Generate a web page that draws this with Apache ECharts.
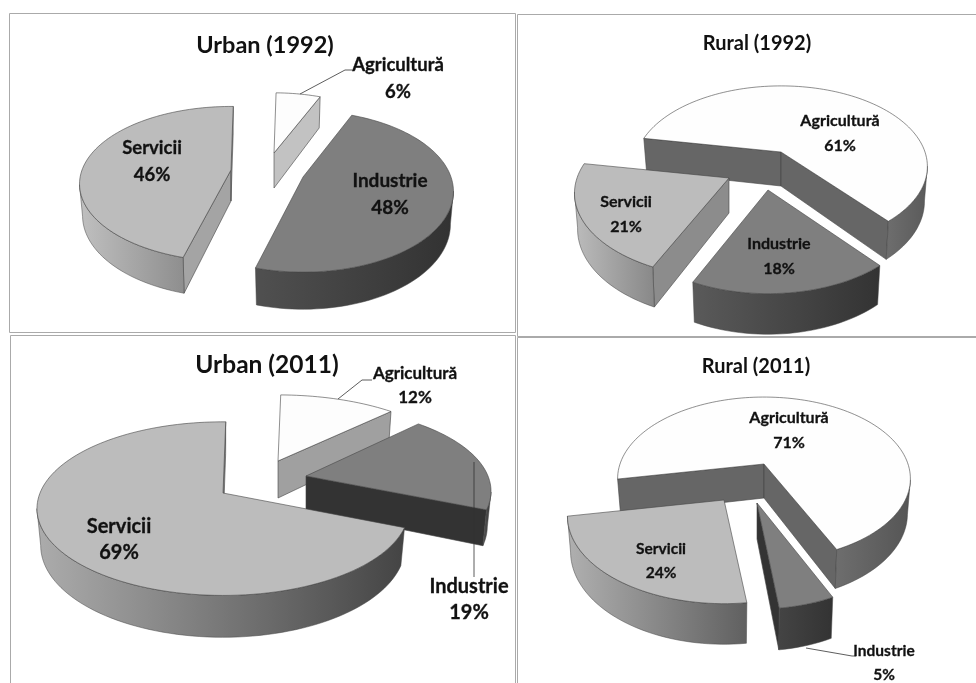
<!DOCTYPE html>
<html>
<head>
<meta charset="utf-8">
<style>
html,body{margin:0;padding:0;background:#fff;}
#main{width:976px;height:683px;}
</style>
<script src="https://cdn.jsdelivr.net/npm/echarts@6/dist/echarts.min.js"></script>
</head>
<body>
<div id="main"></div>
<script>
// values (percent)
var categories = ['Agricultură', 'Industrie', 'Servicii'];
var urban1992 = [6, 48, 46];
var rural1992 = [61, 18, 21];
var urban2011 = [12, 19, 69];
var rural2011 = [71, 5, 24];
var titles = ['Urban (1992)', 'Rural (1992)', 'Urban (2011)', 'Rural (2011)'];

var FONT = 'Lato, "Open Sans", sans-serif';
var PERSP = 0.18; // back of the disc is drawn smaller than the front

// placement of every exploded slice: x,y = apex, rx,ry,h = disc size
var panels = [
	{
		values: urban1992, start: 1,
		title: {x: 260, y: 28, size: 23.5},
		slices: [
			{x: 274, y: 153, rx: 140, ry: 71, h: 35, wall: '#c2c2c2', rim: ['#c2c2c2', '#a8a8a8'], top: '#fdfdfd',
				label: {x: 398, y: 65, y2: 92, size: 18.5}, leader: [[300, 94], [345, 70], [352, 70]]},
			{x: 303, y: 177, rx: 148, ry: 78, h: 32, wall: '#4a4a4a', rim: ['#505050', '#323232'], top: '#7f7f7f',
				label: {x: 390, y: 181, y2: 208, size: 19}},
			{x: 231, y: 170, rx: 149, ry: 75, h: 31, wall: '#a4a4a4', rim: ['#c0c0c0', '#8e8e8e'], top: '#bcbcbc',
				label: {x: 152, y: 148, y2: 175, size: 18.5}}
		]
	},
	{
		values: rural1992, start: 280.4,
		title: {x: 752, y: 29, size: 20},
		slices: [
			{x: 781, y: 152, rx: 144, ry: 78, h: 34, wall: '#666666', rim: ['#6e6e6e', '#5a5a5a'], top: '#fefefe',
				label: {x: 840, y: 121, y2: 146, size: 16}},
			{x: 768, y: 190, rx: 150, ry: 85, h: 35, wall: '#444444', rim: ['#5a5a5a', '#333333'], top: '#7f7f7f',
				label: {x: 779, y: 244, y2: 269, size: 16}},
			{x: 729, y: 178, rx: 152, ry: 82, h: 35, wall: '#8c8c8c', rim: ['#bcbcbc', '#888888'], top: '#bcbcbc',
				label: {x: 626, y: 202, y2: 227, size: 16}}
		]
	},
	{
		values: urban2011, start: 1,
		title: {x: 262, y: 348, size: 24.5},
		slices: [
			{x: 278, y: 461, rx: 183, ry: 78, h: 37, wall: '#a0a0a0', rim: ['#a0a0a0', '#909090'], top: '#fdfdfd',
				label: {x: 415, y: 374, y2: 398, size: 17}, leader: [[338, 399], [362, 380], [372, 380]]},
			{x: 306, y: 476, rx: 182, ry: 82, h: 34, wall: '#333333', rim: ['#555555', '#3a3a3a'], top: '#7f7f7f',
				label: {x: 469, y: 587, y2: 613, size: 20}, leader: [[474, 462], [474, 577]]},
			{x: 223, y: 493, rx: 183, ry: 84, h: 36, wall: '#888888', rim: ['#acacac', '#444444'], top: '#bcbcbc',
				label: {x: 119, y: 527, y2: 553, size: 20}}
		]
	},
	{
		values: rural2011, start: 259.4,
		title: {x: 751, y: 352, size: 20},
		slices: [
			{x: 764, y: 464, rx: 144, ry: 79, h: 34, wall: '#666666', rim: ['#6e6e6e', '#555555'], top: '#fefefe',
				label: {x: 789, y: 418, y2: 443, size: 16}},
			{x: 757, y: 503, rx: 150, ry: 87, h: 36, wall: '#333333', rim: ['#444444', '#333333'], top: '#7f7f7f',
				label: {x: 884, y: 651, y2: 675, size: 15.5}, leader: [[806, 648], [852, 656], [856, 656]]},
			{x: 724, y: 500, rx: 154, ry: 85, h: 35, wall: '#888888', rim: ['#b0b0b0', '#606060'], top: '#bcbcbc',
				label: {x: 661, y: 549, y2: 573, size: 15.5}}
		]
	}
];

function rimPoint(g, deg, down) {
	var a = deg * Math.PI / 180;
	var w = 1 + PERSP * Math.cos(a);
	var k = down ? 0.98 : 1;
	return [
		g.x + g.rx * Math.sin(a) / w * k,
		g.y - g.ry * Math.cos(a) / w * k + (down ? g.h / w : 0)
	];
}

function poly(points, fill, stroke, lw) {
	return {
		type: 'polygon',
		shape: {points: points},
		style: {fill: fill, stroke: stroke, lineWidth: lw}
	};
}

function sideWall(g, deg) {
	return poly([[g.x, g.y], rimPoint(g, deg, false), rimPoint(g, deg, true), [g.x, g.y + g.h]], g.wall, '#444', 0.6);
}

function rimGradient(g) {
	return new echarts.graphic.LinearGradient(0, 0, 1, 0, [
		{offset: 0, color: g.rim[0]},
		{offset: 1, color: g.rim[1]}
	]);
}

function makeRenderItem(panel) {
	return function (params, api) {
		var i = params.dataIndex;
		var g = panel.slices[i];
		var from = panel.start;
		for (var k = 0; k < i; k++) {
			from += panel.values[k] * 3.6;
		}
		var to = from + api.value(1) * 3.6;
		var children = [];

		// inner walls, only the ones facing us
		if (rimPoint(g, from, false)[0] < g.x) {
			children.push(sideWall(g, from));
		}
		if (rimPoint(g, to, false)[0] > g.x) {
			children.push(sideWall(g, to));
		}

		// outer wall: the parts of the rim running right to left are in front
		var tops = [], run = [], steps = Math.ceil((to - from) / 2);
		for (var s = 0; s <= steps; s++) {
			tops.push(from + (to - from) * s / steps);
		}
		function flush() {
			if (run.length > 1) {
				var pts = [];
				run.forEach(function (d) { pts.push(rimPoint(g, d, false)); });
				run.slice().reverse().forEach(function (d) { pts.push(rimPoint(g, d, true)); });
				children.push(poly(pts, rimGradient(g), '#444', 0.5));
			}
			run = [];
		}
		for (var t = 0; t < tops.length - 1; t++) {
			var goingLeft = rimPoint(g, tops[t + 1], false)[0] < rimPoint(g, tops[t], false)[0];
			if (goingLeft) {
				if (!run.length) {
					run.push(tops[t]);
				}
				run.push(tops[t + 1]);
			} else {
				flush();
			}
		}
		flush();

		// top face
		var face = [[g.x, g.y]];
		tops.forEach(function (d) { face.push(rimPoint(g, d, false)); });
		children.push(poly(face, g.top, '#444', 0.6));

		if (g.leader) {
			children.push({
				type: 'polyline',
				shape: {points: g.leader},
				style: {fill: 'none', stroke: '#333', lineWidth: 0.8}
			});
		}

		var font = 'bold ' + g.label.size + 'px ' + FONT;
		children.push({
			type: 'text',
			style: {x: g.label.x, y: g.label.y, text: categories[api.value(0)], font: font,
				fill: '#111', stroke: '#111', lineWidth: 0.3, textAlign: 'center', textVerticalAlign: 'middle'}
		});
		children.push({
			type: 'text',
			style: {x: g.label.x, y: g.label.y2, text: api.value(1) + '%', font: font,
				fill: '#111', stroke: '#111', lineWidth: 0.3, textAlign: 'center', textVerticalAlign: 'middle'}
		});

		return {type: 'group', children: children};
	};
}

var myChart = echarts.init(document.getElementById('main'), null, {renderer: 'canvas'});

var option = {
	backgroundColor: '#fff',
	animation: false,
	title: panels.map(function (p, i) {
		return {
			text: titles[i],
			left: p.title.x,
			top: p.title.y,
			textAlign: 'center',
			textStyle: {fontFamily: FONT, fontWeight: 'bold', fontSize: p.title.size, color: '#111'}
		};
	}),
	graphic: [
		{type: 'rect', shape: {x: 9.5, y: 13.5, width: 506, height: 319}, style: {fill: 'none', stroke: '#aaa', lineWidth: 1}},
		{type: 'rect', shape: {x: 517.5, y: 14.5, width: 470, height: 322}, style: {fill: 'none', stroke: '#aaa', lineWidth: 1}},
		{type: 'rect', shape: {x: 10.5, y: 335.5, width: 505, height: 360}, style: {fill: 'none', stroke: '#aaa', lineWidth: 1}},
		{type: 'rect', shape: {x: 517.5, y: 337.5, width: 470, height: 360}, style: {fill: 'none', stroke: '#aaa', lineWidth: 1}}
	],
	series: panels.map(function (p) {
		return {
			type: 'custom',
			coordinateSystem: 'none',
			renderItem: makeRenderItem(p),
			silent: true,
			z: 5,
			data: p.values.map(function (v, i) { return [i, v]; })
		};
	})
};

myChart.setOption(option);
</script>
</body>
</html>
